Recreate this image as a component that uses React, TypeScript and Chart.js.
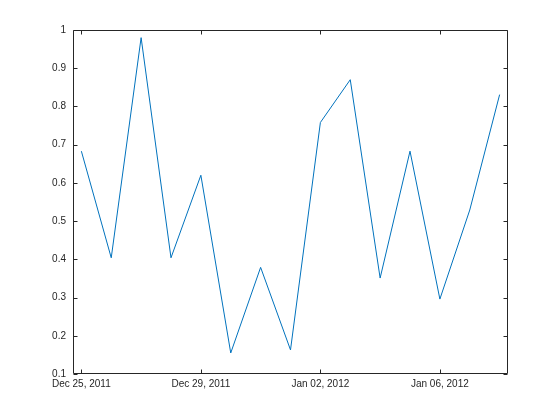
import React, { useEffect, useRef } from "react";
import { Chart, registerables } from "chart.js";

Chart.register(...registerables);

const dates = [
  "2011-12-25", "2011-12-26", "2011-12-27", "2011-12-28", "2011-12-29",
  "2011-12-30", "2011-12-31", "2012-01-01", "2012-01-02", "2012-01-03",
  "2012-01-04", "2012-01-05", "2012-01-06", "2012-01-07", "2012-01-08",
];
const values = [
  0.683, 0.404, 0.98, 0.404, 0.62, 0.155, 0.379, 0.163, 0.758, 0.87,
  0.351, 0.683, 0.296, 0.529, 0.831,
];
const xTickDates = ["2011-12-25", "2011-12-29", "2012-01-02", "2012-01-06"];
const xTickLabels = ["Dec 25, 2011", "Dec 29, 2011", "Jan 02, 2012", "Jan 06, 2012"];
const yTicks = [0.1, 0.2, 0.3, 0.4, 0.5, 0.6, 0.7, 0.8, 0.9, 1];

const DAY = 86400000;
const base = Date.parse(dates[0] + "T00:00:00Z");
const toDay = (s: string) => (Date.parse(s + "T00:00:00Z") - base) / DAY;

const AX = "#262626";

const boxPlugin = {
  id: "matlabBox",
  afterDraw(chart: any) {
    const { ctx, chartArea } = chart;
    const l = Math.round(chartArea.left) + 0.5;
    const r = Math.round(chartArea.right) - 0.5;
    const t = Math.round(chartArea.top) + 0.5;
    const b = Math.round(chartArea.bottom) - 0.5;
    ctx.save();
    ctx.strokeStyle = AX;
    ctx.lineWidth = 1;
    ctx.beginPath();
    ctx.rect(l, t, r - l, b - t);
    const xs = chart.scales.x;
    const ys = chart.scales.y;
    const tl = 4;
    xs.ticks.forEach((tk: any) => {
      const px = Math.round(xs.getPixelForValue(tk.value)) + 0.5;
      ctx.moveTo(px, b);
      ctx.lineTo(px, b - tl);
      ctx.moveTo(px, t);
      ctx.lineTo(px, t + tl);
    });
    ys.ticks.forEach((tk: any) => {
      const py = Math.round(ys.getPixelForValue(tk.value)) + 0.5;
      ctx.moveTo(l, py);
      ctx.lineTo(l + tl, py);
      ctx.moveTo(r, py);
      ctx.lineTo(r - tl, py);
    });
    ctx.stroke();
    ctx.restore();
  },
};

export default function App() {
  const ref = useRef<HTMLCanvasElement | null>(null);
  useEffect(() => {
    document.body.style.margin = "0";
    const canvas = ref.current;
    if (!canvas) return;
    const xTickVals = xTickDates.map(toDay);
    const chart = new Chart(canvas, {
      type: "line",
      data: {
        datasets: [
          {
            data: dates.map((d, i) => ({ x: toDay(d), y: values[i] })),
            borderColor: "#0072BD",
            borderWidth: 1,
            pointRadius: 0,
            tension: 0,
            fill: false,
          },
        ],
      },
      options: {
        responsive: false,
        animation: false,
        devicePixelRatio: 1,
        layout: { padding: { left: 0, top: 30, right: 52, bottom: 0 } },
        plugins: { legend: { display: false }, tooltip: { enabled: false } },
        scales: {
          x: {
            type: "linear",
            min: -0.28,
            max: 14.28,
            grid: { display: false, drawTicks: false },
            border: { display: false },
            afterFit: (s: any) => {
              s.height = 46;
            },
            afterBuildTicks: (s: any) => {
              s.ticks = xTickVals.map((v) => ({ value: v }));
            },
            ticks: {
              padding: 4,
              maxRotation: 0,
              autoSkip: false,
              color: AX,
              font: { family: "Liberation Sans", size: 10 },
              callback: (v: any) => {
                const i = xTickVals.indexOf(Number(v));
                return i >= 0 ? xTickLabels[i] : "";
              },
            },
          },
          y: {
            type: "linear",
            min: 0.1,
            max: 1,
            grid: { display: false, drawTicks: false },
            border: { display: false },
            afterFit: (s: any) => {
              s.width = 73;
            },
            afterBuildTicks: (s: any) => {
              s.ticks = yTicks.map((v) => ({ value: v }));
            },
            ticks: {
              padding: 7,
              autoSkip: false,
              color: AX,
              font: { family: "Liberation Sans", size: 10 },
              callback: (v: any) => String(Math.round(Number(v) * 10) / 10),
            },
          },
        },
      },
      plugins: [boxPlugin],
    });
    return () => chart.destroy();
  }, []);
  return (
    <div style={{ width: 560, height: 420, background: "#fff" }}>
      <canvas ref={ref} width={560} height={420} style={{ display: "block" }} />
    </div>
  );
}
